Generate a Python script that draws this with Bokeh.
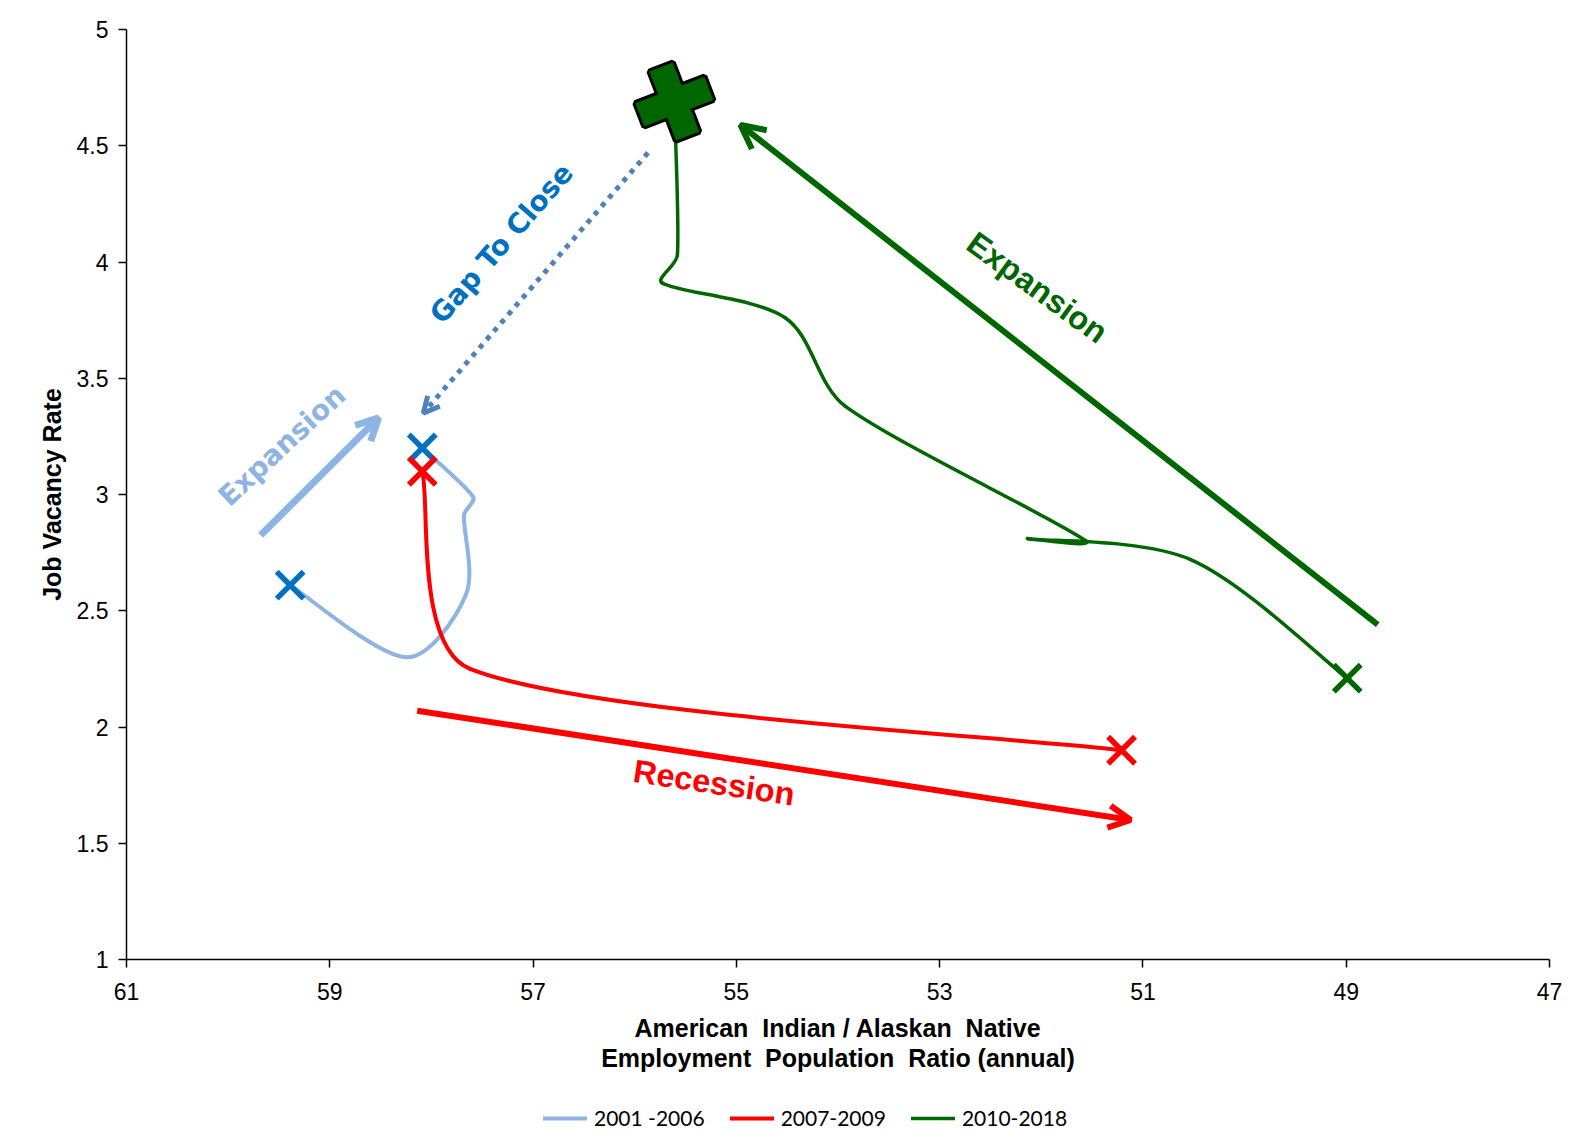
import numpy as np
from bokeh.plotting import figure
from bokeh.models import Range1d, FixedTicker, Legend, LegendItem, Arrow, OpenHead
from bokeh.core.properties import value
from bokeh.embed import file_html
from bokeh.resources import INLINE

# ---------------- data ----------------
x_ticks = [61, 59, 57, 55, 53, 51, 49, 47]
y_ticks = [1, 1.5, 2, 2.5, 3, 3.5, 4, 4.5, 5]

x_title = ["American\u00a0 Indian / Alaskan\u00a0 Native",
           "Employment\u00a0 Population\u00a0 Ratio (annual)"]
y_title = "Job Vacancy Rate"

# 2001-2006
years_a = [2001, 2002, 2003, 2004, 2005, 2006]
emp_a = [59.39, 58.25, 57.66, 57.68, 57.59, 58.09]
vac_a = [2.61, 2.30, 2.57, 2.91, 2.99, 3.20]

# 2007-2009
years_b = [2007, 2008, 2009]
emp_b = [58.09, 57.62, 51.21]
vac_b = [3.10, 2.25, 1.90]

# 2010-2018
years_c = [2010, 2011, 2012, 2013, 2014, 2015, 2016, 2017, 2018]
emp_c = [48.99, 50.53, 52.13, 51.56, 53.93, 54.52, 55.73, 55.58, 55.61]
vac_c = [2.21, 2.72, 2.81, 2.80, 3.38, 3.76, 3.91, 4.03, 4.69]

series_names = ["2001 -2006", "2007-2009", "2010-2018"]

# annotation arrows (data coordinates)
arrow_x0 = [59.68, 55.87, 48.69, 58.14]
arrow_y0 = [2.825, 4.47, 2.44, 2.07]
arrow_x1 = [58.52, 58.08, 54.96, 51.12]
arrow_y1 = [3.33, 3.35, 4.59, 1.60]

# annotation texts
note_text = ["Expansion", "Gap To Close", "Expansion", "Recession"]
note_x = [59.47, 57.31, 52.04, 55.22]
note_y = [3.21, 4.08, 3.89, 1.76]
note_angle = [43, 49, -36, -8.5]

C_LB = "#8DB4E2"
C_BLUE = "#0070C0"
C_DOT = "#4F81BD"
C_RED = "#FF0000"
C_GREEN = "#006600"

# ---------------- layout ----------------
W, H = 1580, 1140
AX_LEFT, AX_TOP = 126, 29      # pixel position of x=61 and y=5
FRAME_W = 1423                 # x: 61 -> 47
PLOT_H = 930                   # y: 5 -> 1
KX = FRAME_W / 14.0
KY = PLOT_H / 4.0
X_START = 61 + AX_LEFT / KX
X_END = 61 - (W - AX_LEFT) / KX
Y_END = 5 + AX_TOP / KY
Y_START = 5 - (H - AX_TOP) / KY


def smooth(xs, ys, f=1.0 / 6.0):
    """Excel-like smoothed line: cubic Bezier control points from the data points."""
    P = [np.array([x * KX, y * KY]) for x, y in zip(xs, ys)]
    n = len(P)
    out = {k: [] for k in ("x0", "y0", "x1", "y1", "cx0", "cy0", "cx1", "cy1")}
    for i in range(n - 1):
        p0 = P[i - 1] if i > 0 else P[i]
        p1, p2 = P[i], P[i + 1]
        p3 = P[i + 2] if i + 2 < n else P[i + 1]
        d01 = np.linalg.norm(p1 - p0)
        d12 = np.linalg.norm(p2 - p1)
        d23 = np.linalg.norm(p3 - p2)
        f1 = f if d01 == 0 else min(f, f * 2 * d12 / (d01 + d12))
        f2 = f if d23 == 0 else min(f, f * 2 * d12 / (d12 + d23))
        c1 = p1 + (p2 - p0) * f1
        c2 = p2 - (p3 - p1) * f2
        out["x0"].append(p1[0] / KX); out["y0"].append(p1[1] / KY)
        out["x1"].append(p2[0] / KX); out["y1"].append(p2[1] / KY)
        out["cx0"].append(c1[0] / KX); out["cy0"].append(c1[1] / KY)
        out["cx1"].append(c2[0] / KX); out["cy1"].append(c2[1] / KY)
    return out


p = figure(width=W, height=H, x_range=Range1d(X_START, X_END), y_range=Range1d(Y_START, Y_END),
           output_backend="svg", toolbar_location=None, min_border=0)
p.grid.visible = False
p.outline_line_color = None
p.background_fill_color = "white"
p.border_fill_color = "white"

for ax in (p.xaxis[0], p.yaxis[0]):
    ax.axis_line_color = "black"
    ax.axis_line_width = 1.5
    ax.major_tick_line_color = "black"
    ax.major_tick_line_width = 1.5
    ax.major_tick_out = 8
    ax.major_tick_in = 0
    ax.minor_tick_line_color = None
    ax.major_label_text_font = "Liberation Sans"
    ax.major_label_text_font_size = "23px"
    ax.major_label_text_color = "black"

p.xaxis.fixed_location = y_ticks[0]
p.xaxis.bounds = (x_ticks[-1], x_ticks[0])
p.yaxis.fixed_location = x_ticks[0]
p.yaxis.bounds = (y_ticks[0], y_ticks[-1])
p.xaxis.ticker = FixedTicker(ticks=x_ticks)
p.yaxis.ticker = FixedTicker(ticks=y_ticks)
p.xaxis.major_label_standoff = 15
p.yaxis.major_label_standoff = 10

# axis titles
title_kw = dict(text_font=value("Liberation Sans"), text_font_size=value("25px"),
                text_font_style="bold", text_color="black", text_align="center",
                text_baseline="middle")
x_mid = (x_ticks[0] + x_ticks[-1]) / 2
y_mid = (y_ticks[0] + y_ticks[-1]) / 2
p.text(x=[x_mid], y=[y_ticks[0]], text=[x_title[0]], y_offset=68, **title_kw)
p.text(x=[x_mid], y=[y_ticks[0]], text=[x_title[1]], y_offset=98, **title_kw)
p.text(x=[x_ticks[0]], y=[y_mid], text=[y_title], x_offset=-75, angle=90, angle_units="deg",
       **title_kw)

# series
sa = smooth(emp_a, vac_a)
r_a = p.bezier(line_color=C_LB, line_width=4, line_cap="round", **sa)
p.scatter([emp_a[0], emp_a[-1]], [vac_a[0], vac_a[-1]], marker="x", size=38,
          line_color=C_BLUE, line_width=5.5)

sb = smooth(emp_b, vac_b)
r_b = p.bezier(line_color=C_RED, line_width=4, line_cap="round", **sb)
p.scatter([emp_b[0], emp_b[-1]], [vac_b[0], vac_b[-1]], marker="x", size=38,
          line_color=C_RED, line_width=5.5)

sc = smooth(emp_c, vac_c)
r_c = p.bezier(line_color=C_GREEN, line_width=3.5, line_cap="round", **sc)
p.scatter([emp_c[0]], [vac_c[0]], marker="x", size=38, line_color=C_GREEN, line_width=5.5)
# big outlined cross at the last point
for ang in (21, 111):
    p.rect([emp_c[-1]], [vac_c[-1]], width=74, height=25, width_units="screen",
           height_units="screen", angle=ang, angle_units="deg",
           fill_color="black", line_color="black", line_width=6)
for ang in (21, 111):
    p.rect([emp_c[-1]], [vac_c[-1]], width=74, height=25, width_units="screen",
           height_units="screen", angle=ang, angle_units="deg",
           fill_color=C_GREEN, line_color=None)

# arrows
arrow_styles = [
    dict(color=C_LB, width=7, dash="solid", head=22),
    dict(color=C_DOT, width=5, dash="5 6", head=16),
    dict(color=C_GREEN, width=6, dash="solid", head=24),
    dict(color=C_RED, width=6, dash="solid", head=22),
]
for i, st in enumerate(arrow_styles):
    p.add_layout(Arrow(end=OpenHead(size=st["head"], line_color=st["color"], line_width=st["width"]),
                       x_start=arrow_x0[i], y_start=arrow_y0[i], x_end=arrow_x1[i], y_end=arrow_y1[i],
                       line_color=st["color"], line_width=st["width"], line_dash=st["dash"]))

# annotation texts
note_styles = [
    dict(color=C_LB, font="DejaVu Sans", size="28px"),
    dict(color=C_BLUE, font="DejaVu Sans", size="28px"),
    dict(color=C_GREEN, font="Liberation Sans", size="32.5px"),
    dict(color=C_RED, font="Liberation Sans", size="32.5px"),
]
for i, st in enumerate(note_styles):
    p.text(x=[note_x[i]], y=[note_y[i]], text=[note_text[i]], angle=note_angle[i], angle_units="deg",
           text_font=value(st["font"]), text_font_size=value(st["size"]), text_font_style="bold",
           text_color=st["color"], text_align="center", text_baseline="middle")

legend = Legend(items=[LegendItem(label=series_names[0], renderers=[r_a]),
                       LegendItem(label=series_names[1], renderers=[r_b]),
                       LegendItem(label=series_names[2], renderers=[r_c])],
                orientation="horizontal", location=(543, 10),
                background_fill_alpha=0, border_line_color=None,
                padding=0, margin=0, spacing=25, glyph_width=44, glyph_height=20,
                label_standoff=7, label_text_font="Lato", label_text_font_size="21px",
                label_text_color="black")
p.add_layout(legend)

open("out.html", "w").write(file_html(p, INLINE))
